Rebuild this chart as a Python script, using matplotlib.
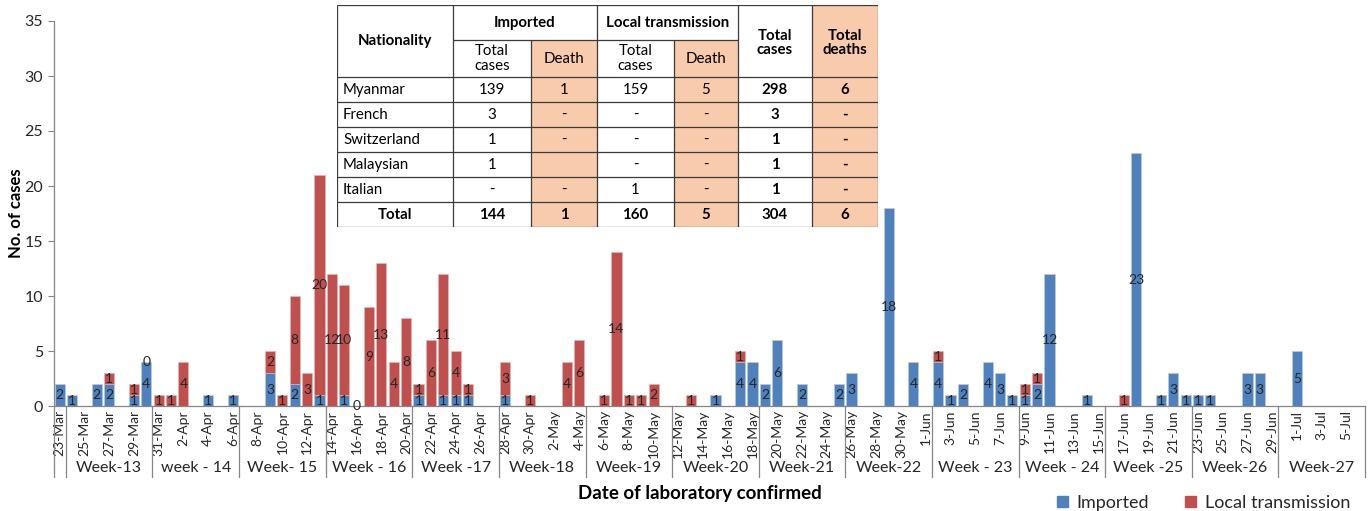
import numpy as np
import pandas as pd
import matplotlib
matplotlib.use("Agg")
import matplotlib.pyplot as plt
from matplotlib.patches import Rectangle, Patch
from matplotlib.transforms import blended_transform_factory

plt.rcParams['font.family'] = ['Lato', 'DejaVu Sans']

# ---------------- data ----------------
dates = [d.strftime('%-d-%b') for d in pd.date_range('2020-03-23', '2020-07-06')]

imported = {
    '23-Mar': 2, '24-Mar': 1, '26-Mar': 2, '27-Mar': 2, '29-Mar': 1, '30-Mar': 4,
    '4-Apr': 1, '6-Apr': 1, '9-Apr': 3, '11-Apr': 2, '13-Apr': 1, '15-Apr': 1,
    '21-Apr': 1, '23-Apr': 1, '24-Apr': 1, '25-Apr': 1, '28-Apr': 1,
    '15-May': 1, '17-May': 4, '18-May': 4, '19-May': 2, '20-May': 6, '22-May': 2,
    '25-May': 2, '26-May': 3, '29-May': 18, '31-May': 4,
    '2-Jun': 4, '3-Jun': 1, '4-Jun': 2, '6-Jun': 4, '7-Jun': 3, '8-Jun': 1,
    '9-Jun': 1, '10-Jun': 2, '11-Jun': 12, '14-Jun': 1, '18-Jun': 23, '20-Jun': 1,
    '21-Jun': 3, '22-Jun': 1, '23-Jun': 1, '24-Jun': 1, '27-Jun': 3, '28-Jun': 3,
    '1-Jul': 5,
}
local = {
    '27-Mar': 1, '29-Mar': 1, '30-Mar': 0, '31-Mar': 1, '1-Apr': 1, '2-Apr': 4,
    '9-Apr': 2, '10-Apr': 1, '11-Apr': 8, '12-Apr': 3, '13-Apr': 20, '14-Apr': 12,
    '15-Apr': 10, '16-Apr': 0, '17-Apr': 9, '18-Apr': 13, '19-Apr': 4, '20-Apr': 8,
    '21-Apr': 1, '22-Apr': 6, '23-Apr': 11, '24-Apr': 4, '25-Apr': 1, '28-Apr': 3,
    '30-Apr': 1, '3-May': 4, '4-May': 6, '6-May': 1, '7-May': 14, '8-May': 1,
    '9-May': 1, '10-May': 2, '13-May': 1, '17-May': 1,
    '2-Jun': 1, '9-Jun': 1, '10-Jun': 1, '17-Jun': 1,
}

week_labels = ['', 'Week-13', 'week - 14', 'Week- 15', 'Week - 16', 'Week -17',
               'Week-18', 'Week-19', 'Week-20', 'Week-21', 'Week-22', 'Week - 23',
               'Week - 24', 'Week -25', 'Week-26', 'Week-27']
week_starts = ['23-Mar', '24-Mar', '31-Mar', '7-Apr', '14-Apr', '21-Apr', '28-Apr',
               '5-May', '12-May', '19-May', '26-May', '2-Jun', '9-Jun', '16-Jun',
               '23-Jun', '30-Jun']

tbl_nationality = ['Myanmar', 'French', 'Switzerland', 'Malaysian', 'Italian', 'Total']
tbl_imp_total = ['139', '3', '1', '1', '-', '144']
tbl_imp_death = ['1', '-', '-', '', '-', '1']
tbl_loc_total = ['159', '-', '-', '-', '1', '160']
tbl_loc_death = ['5', '-', '-', '-', '-', '5']
tbl_total_cases = ['298', '3', '1', '1', '1', '304']
tbl_total_deaths = ['6', '-', '-', '-', '-', '6']

# ---------------- style ----------------
BLUE = '#4F81BD'
RED = '#C0504D'
PEACH = '#F8CBAD'
GRAY = '#868686'
TXT = '#262626'

W, H = 1371, 511
fig = plt.figure(figsize=(W / 100, H / 100), dpi=100)
ax = fig.add_axes([53.5 / W, 105 / H, (1365 - 53.5) / W, 385 / H])

x = np.arange(len(dates))
imp = np.array([imported.get(d, 0) for d in dates], dtype=float)
loc = np.array([local.get(d, 0) for d in dates], dtype=float)

bw = 0.82
ax.bar(x, imp, bw, color=BLUE, edgecolor='#B9CDE5', linewidth=0.4, zorder=2)
ax.bar(x, loc, bw, bottom=imp, color=RED, edgecolor='#E6B9B8', linewidth=0.4, zorder=2)

for i, d in enumerate(dates):
    if d in imported:
        ax.text(i, imp[i] / 2, str(imported[d]), ha='center', va='center',
                fontsize=10, color=TXT, zorder=3)
    if d in local:
        ax.text(i, imp[i] + loc[i] / 2, str(local[d]), ha='center', va='center',
                fontsize=10, color=TXT, zorder=3)

ax.set_xlim(-0.5, len(dates) - 0.5)
ax.set_ylim(0, 35)
ax.set_yticks(np.arange(0, 36, 5))
ax.tick_params(axis='y', labelsize=11.5, colors=GRAY, labelcolor=TXT, length=4, width=0.8)
ax.set_xticks(x[::2])
ax.set_xticklabels(dates[::2], rotation=90, fontsize=10, color=TXT)
ax.tick_params(axis='x', length=0, pad=3)
for s in ['top', 'right']:
    ax.spines[s].set_visible(False)
for s in ['left', 'bottom']:
    ax.spines[s].set_color(GRAY)
    ax.spines[s].set_linewidth(0.9)

ax.set_ylabel('No. of cases', fontsize=12, fontweight='bold', color='black', labelpad=0)

# week separators and labels
tr = blended_transform_factory(ax.transData, ax.transAxes)
idx = {d: i for i, d in enumerate(dates)}
starts = [idx[s] for s in week_starts] + [len(dates)]
sep_bottom = -71 / 385
for k, lab in enumerate(week_labels):
    a, b = starts[k], starts[k + 1]
    ax.plot([a - 0.5, a - 0.5], [0, sep_bottom], transform=tr, color=GRAY,
            lw=0.9, clip_on=False)
    if lab:
        ax.text((a + b - 1) / 2, -62 / 385, lab, transform=tr, ha='center',
                va='center', fontsize=11.5, color=TXT)
ax.plot([len(dates) - 0.5] * 2, [0, sep_bottom], transform=tr, color=GRAY,
        lw=0.9, clip_on=False)

fig.text(700 / W, 1 - 493 / H, 'Date of laboratory confirmed', ha='center',
         va='center', fontsize=13.5, fontweight='bold', color='black')

handles = [Patch(color=BLUE, label='Imported'), Patch(color=RED, label='Local transmission')]
fig.legend(handles=handles, loc='center left', bbox_to_anchor=(1057 / W, 1 - 503 / H),
           ncol=2, frameon=False, fontsize=13, handlelength=0.6, handleheight=0.6,
           handletextpad=0.5, columnspacing=2.0, borderaxespad=0, borderpad=0,
           labelcolor=TXT)

# ---------------- table ----------------
tx0, ty0, tw, th = 337, 5, 541, 222
tax = fig.add_axes([tx0 / W, 1 - (ty0 + th) / H, tw / W, th / H])
tax.set_xlim(0, tw)
tax.set_ylim(th, 0)
tax.axis('off')

cx = [0, 116, 194, 260, 337, 401, 475, 541]
ry = [0, 35, 72, 97, 122, 147, 172, 197, 222]
LC = '#3a3a3a'
LW = 0.9

tax.add_patch(Rectangle((0, 0), tw, th, facecolor='white', edgecolor='none', zorder=0))
# peach cells
for c in (2, 4):
    tax.add_patch(Rectangle((cx[c], ry[1]), cx[c + 1] - cx[c], th - ry[1],
                            facecolor=PEACH, edgecolor='none', zorder=1))
tax.add_patch(Rectangle((cx[6], 0), cx[7] - cx[6], th, facecolor=PEACH,
                        edgecolor='none', zorder=1))

def hline(y, xa, xb):
    tax.plot([xa, xb], [y, y], color=LC, lw=LW, zorder=3, solid_capstyle='butt')

def vline(xv, ya, yb):
    tax.plot([xv, xv], [ya, yb], color=LC, lw=LW, zorder=3, solid_capstyle='butt')

hline(0, 0, tw)
hline(ry[1], cx[1], cx[5])
for y in ry[2:]:
    hline(y, 0, tw)
for c in (0, 1, 3, 5, 6, 7):
    vline(cx[c], 0, th)
for c in (2, 4):
    vline(cx[c], ry[1], th)

FS = 10.8
def ctext(xc, yc, s, bold=False, ha='center'):
    tax.text(xc, yc, s, ha=ha, va='center', fontsize=FS, color='black',
             fontweight='bold' if bold else 'normal', zorder=4, linespacing=1.05)

ctext((cx[0] + cx[1]) / 2, ry[2] / 2, 'Nationality', bold=True)
ctext((cx[1] + cx[3]) / 2, ry[1] / 2, 'Imported', bold=True)
ctext((cx[3] + cx[5]) / 2, ry[1] / 2, 'Local transmission', bold=True)
ctext((cx[5] + cx[6]) / 2, ry[2] / 2 + 2, 'Total\ncases', bold=True)
ctext((cx[6] + cx[7]) / 2, ry[2] / 2 + 2, 'Total\ndeaths', bold=True)
sub = ['Total\ncases', 'Death', 'Total\ncases', 'Death']
for k, s in enumerate(sub):
    c = k + 1
    ctext((cx[c] + cx[c + 1]) / 2, (ry[1] + ry[2]) / 2, s)

cols = [tbl_imp_total, tbl_imp_death, tbl_loc_total, tbl_loc_death,
        tbl_total_cases, tbl_total_deaths]
for r, nat in enumerate(tbl_nationality):
    yc = (ry[r + 2] + ry[r + 3]) / 2
    is_total = nat == 'Total'
    if is_total:
        ctext((cx[0] + cx[1]) / 2, yc, nat, bold=True)
    else:
        ctext(cx[0] + 6, yc, nat, ha='left')
    for k, col in enumerate(cols):
        c = k + 1
        ctext((cx[c] + cx[c + 1]) / 2, yc, col[r], bold=is_total or c >= 5)

fig.savefig('out.png', dpi=100)
